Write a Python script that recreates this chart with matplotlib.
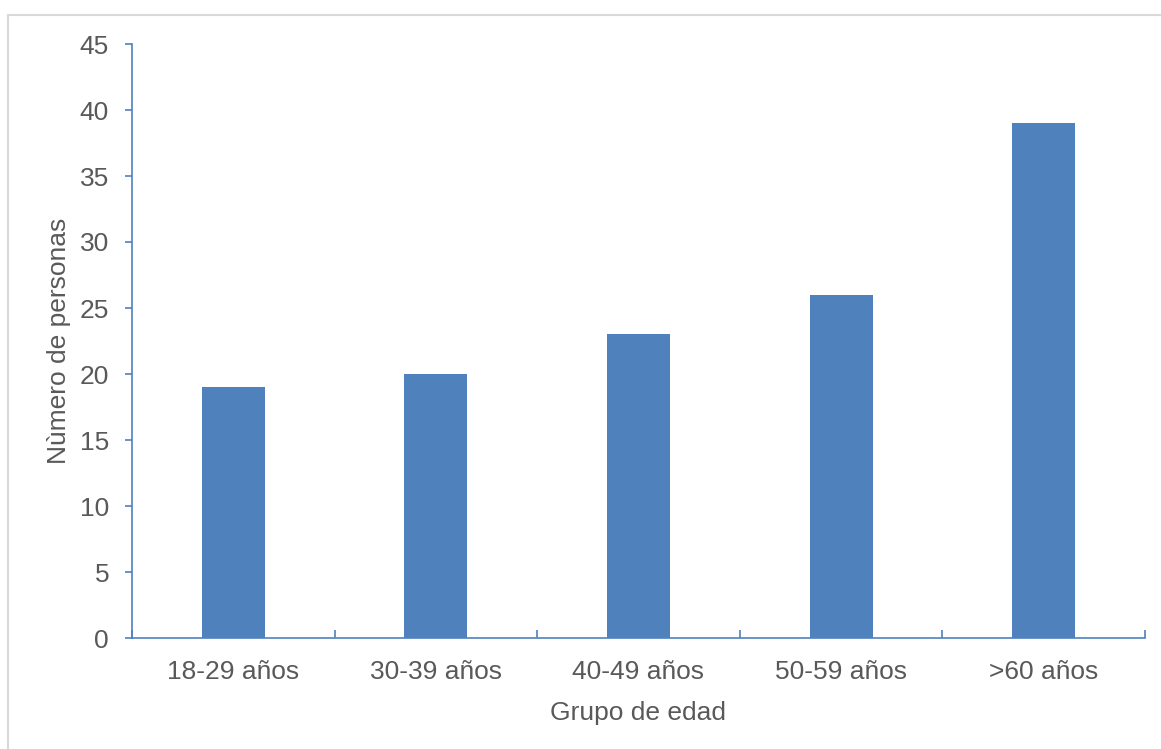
import matplotlib
matplotlib.use("Agg")
import matplotlib.pyplot as plt
from matplotlib.patches import Rectangle
import numpy as np

categories = ["18-29 años", "30-39 años", "40-49 años", "50-59 años", ">60 años"]
values = [19, 20, 23, 26, 39]
y_ticks = [0, 5, 10, 15, 20, 25, 30, 35, 40, 45]

BAR = "#4f81bd"
AXIS = "#4f81bd"
TEXT = "#595959"
FS = 19

plt.rcParams["font.family"] = ["Liberation Sans", "DejaVu Sans"]

fig = plt.figure(figsize=(11.61, 7.49), dpi=100)
W, H = 1161, 749

# chart area frame
fig.patches.append(Rectangle((7.5 / W, -0.02), 1.05, 1 - 14.5 / H + 0.02,
                             transform=fig.transFigure, fill=False,
                             edgecolor="#d9d9d9", linewidth=1.5, zorder=0))

ax = fig.add_axes([132 / W, 1 - 638 / H, (1145 - 132) / W, (638 - 44) / H])
x = np.arange(len(categories))
ax.bar(x, values, width=0.31, color=BAR, zorder=2)

ax.set_xlim(-0.5, len(categories) - 0.5)
ax.set_ylim(0, 45)
ax.set_yticks(y_ticks)
ax.set_yticklabels([str(v) for v in y_ticks])

# category boundaries as inward ticks, labels at centres
ax.set_xticks(np.arange(-0.5, len(categories), 1.0))
ax.set_xticklabels([])
ax.set_xticks(x, minor=True)
ax.set_xticklabels(categories, minor=True)
ax.tick_params(axis="x", which="major", direction="in", length=5.8, width=1.2, color=AXIS)
ax.tick_params(axis="x", which="minor", length=0, pad=16, labelsize=FS, labelcolor=TEXT)
ax.tick_params(axis="y", direction="out", length=5, width=1.2, color=AXIS,
               pad=11.5, labelsize=FS, labelcolor=TEXT)

for s in ("top", "right"):
    ax.spines[s].set_visible(False)
for s in ("left", "bottom"):
    ax.spines[s].set_color(AXIS)
    ax.spines[s].set_linewidth(1.2)

ax.set_xlabel("Grupo de edad", fontsize=FS, color=TEXT, labelpad=12)
ax.set_ylabel("Nùmero de personas", fontsize=FS, color=TEXT, labelpad=6)

fig.savefig("out.png", dpi=100)
